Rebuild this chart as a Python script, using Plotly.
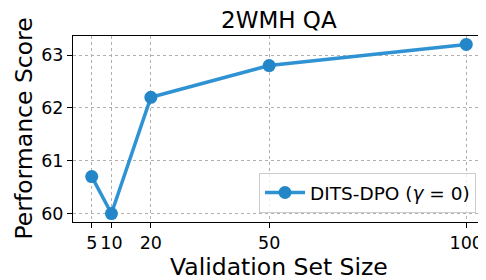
import plotly.graph_objects as go

sizes = [5, 10, 20, 50, 100]
scores = [60.7, 60.0, 62.2, 62.8, 63.2]
x_ticks = [5, 10, 20, 50, 100]
y_ticks = [60, 61, 62, 63]

line_color = "#2f92d2"
marker_color = "#2386c8"
fig = go.Figure()
fig.add_trace(go.Scatter(
    x=sizes, y=scores, mode="lines+markers",
    name="DITS-DPO (<i>γ</i> = 0)",
    line=dict(color=line_color, width=3.5),
    marker=dict(size=13, color=marker_color),
))

# page offset of the body margin
OFF = 8
W, H = 486, 280
# desired plot area in page pixels
PL, PR, PT, PB = 73, 485, 36, 222
L = PL - OFF
T = PT - OFF
R = W - (PR - OFF)
B = H - (PB - OFF)
pw, ph = PR - PL, PB - PT


def px(xp):
    return (xp - PL) / pw


def py(yp):
    return (PB - yp) / ph


axis_common = dict(
    showline=True, linecolor="black", linewidth=1, mirror=True,
    ticks="outside", ticklen=5, tickcolor="black",
    showgrid=True, gridcolor="#b0b0b0", griddash="dot", gridwidth=1,
    zeroline=False, tickfont=dict(size=17.5, color="black"), automargin=False,
)
fig.update_layout(
    width=W, height=H,
    margin=dict(l=L, r=R, t=T, b=B),
    plot_bgcolor="white", paper_bgcolor="white",
    font=dict(family="DejaVu Sans", color="black"),
    xaxis=dict(range=[0.25, 104.75], tickvals=x_ticks, **axis_common),
    yaxis=dict(range=[59.84, 63.36], tickvals=y_ticks, **axis_common),
    legend=dict(x=px(476), y=py(213), xanchor="right", yanchor="bottom",
                bgcolor="rgba(255,255,255,0.8)", bordercolor="#cccccc", borderwidth=1,
                font=dict(size=18.5), itemwidth=40),
    showlegend=True,
    annotations=[
        dict(text="2WMH QA", xref="paper", yref="paper", x=0.5, y=py(20),
             xanchor="center", yanchor="middle", showarrow=False, font=dict(size=23)),
        dict(text="Validation Set Size", xref="paper", yref="paper", x=0.5,
             y=py(267), xanchor="center", yanchor="middle",
             showarrow=False, font=dict(size=23.5)),
        dict(text="Performance Score", xref="paper", yref="paper",
             x=px(23.5), y=0.5, xanchor="center", yanchor="middle",
             textangle=-90, showarrow=False, font=dict(size=23.5)),
    ],
)
fig.write_html("out.html")
